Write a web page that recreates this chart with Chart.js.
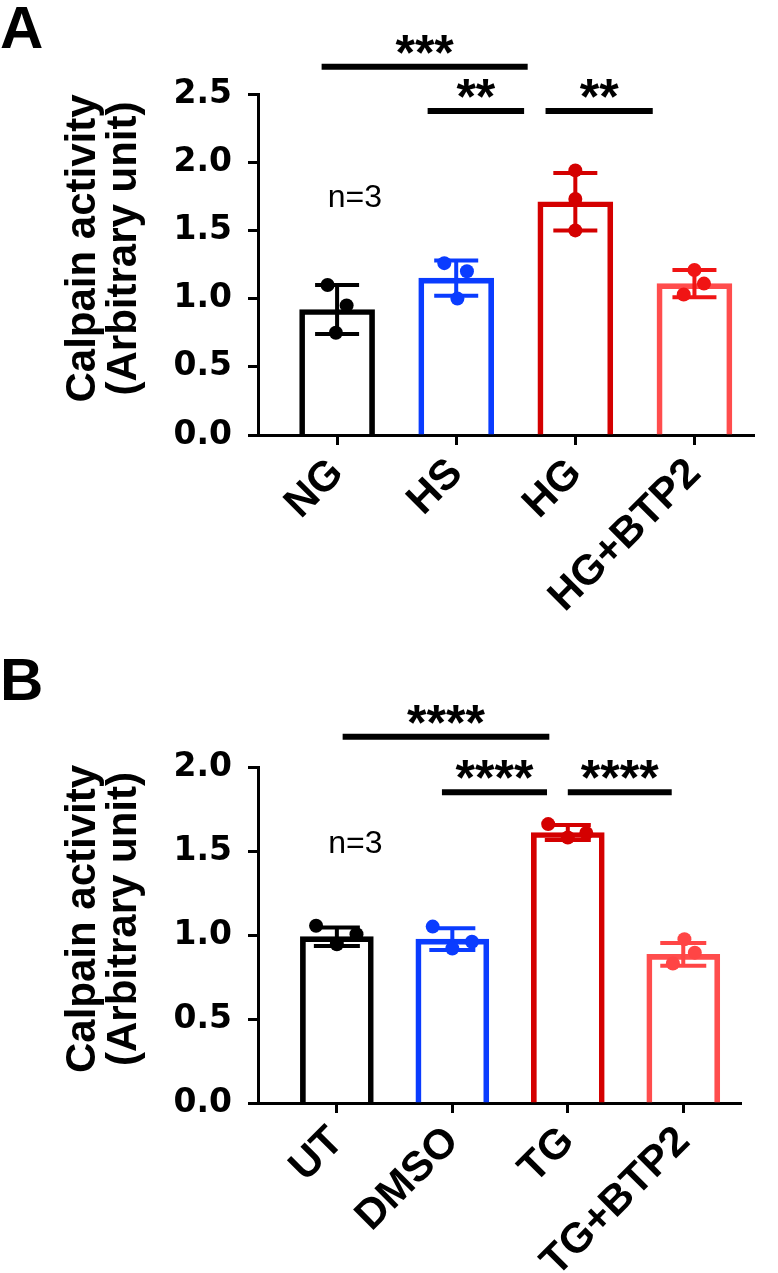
<!DOCTYPE html>
<html>
<head>
<meta charset="utf-8">
<title>Calpain activity</title>
<script src="https://cdn.jsdelivr.net/npm/chart.js@4.4.1/dist/chart.umd.min.js"></script>
<style>
  html, body { margin: 0; padding: 0; background: #fff; }
  canvas { display: block; }
</style>
</head>
<body>
<canvas id="chartA" width="778" height="640"></canvas>
<canvas id="chartB" width="778" height="633"></canvas>

<script>
// ---- Panel A data ----
const labelsA = ['NG', 'HS', 'HG', 'HG+BTP2'];
const meanA = [0.92, 1.15, 1.71, 1.11];
const sdA = [0.18, 0.13, 0.21, 0.10];
const pointsA = [
    [1.10, 0.95, 0.75],
    [1.26, 1.20, 1.00],
    [1.94, 1.73, 1.50],
    [1.21, 1.11, 1.03]
];
const jitterA = [
    [-0.08, 0.08, -0.01],
    [-0.10, 0.09, 0.01],
    [0, 0, 0],
    [0, 0.08, -0.09]
];
const yTicksA = [0, 0.5, 1.0, 1.5, 2.0, 2.5];
const sigA = [
    { from: -0.13, to: 1.60, y: 2.70, text: '***' },
    { from: 0.76, to: 1.57, y: 2.375, text: '**' },
    { from: 1.75, to: 2.65, y: 2.375, text: '**' }
];

// ---- Panel B data ----
const labelsB = ['UT', 'DMSO', 'TG', 'TG+BTP2'];
const meanB = [0.99, 0.975, 1.61, 0.885];
const sdB = [0.055, 0.065, 0.045, 0.068];
const pointsB = [
    [1.055, 1.005, 0.945],
    [1.05, 0.96, 0.92],
    [1.66, 1.607, 1.58],
    [0.975, 0.895, 0.83]
];
const jitterB = [
    [-0.18, 0.17, 0],
    [-0.17, 0.17, 0],
    [-0.17, 0.16, 0],
    [0.01, 0.10, -0.09]
];
const yTicksB = [0, 0.5, 1.0, 1.5, 2.0];
const sigB = [
    { from: 0.05, to: 1.84, y: 2.18, text: '****' },
    { from: 0.91, to: 1.82, y: 1.85, text: '****' },
    { from: 2.00, to: 2.90, y: 1.85, text: '****' }
];

const yTitle = ['Calpain activity', '(Arbitrary unit)'];
const barColors = ['#000000', '#0a3cff', '#d40000', '#ff4d4d'];
const dotColorsA = ['#000000', '#0a3cff', '#d40000', '#f01414'];
const dotColorsB = ['#000000', '#0a3cff', '#d40000', '#ff4545'];

const ARIAL = '"Liberation Sans", Arial, sans-serif';

// Bars + one scatter dataset per group
function buildDatasets(means, points, jitter, dotColors, barWidth) {
    const ds = [{
        type: 'bar',
        data: means.map((m, i) => ({ x: i, y: m })),
        backgroundColor: 'rgba(0,0,0,0)',
        borderColor: barColors,
        borderWidth: 5,
        borderSkipped: 'start',
        barThickness: barWidth,
        order: 2
    }];
    points.forEach((grp, i) => {
        ds.push({
            type: 'scatter',
            data: grp.map((v, k) => ({ x: i + jitter[i][k], y: v })),
            pointRadius: 7,
            pointHoverRadius: 7,
            pointBackgroundColor: dotColors[i],
            pointBorderWidth: 0,
            order: 1
        });
    });
    return ds;
}

// Error bars, significance lines, labels
function makeExtras(cfg) {
    return {
        id: 'extras' + cfg.letter,
        afterDatasetDraw(chart, args) {
            if (args.index !== 0) return;
            const { ctx, scales: { x, y } } = chart;
            ctx.save();
            ctx.lineWidth = 4;
            cfg.means.forEach((m, i) => {
                const px = x.getPixelForValue(i);
                const top = y.getPixelForValue(m + cfg.sds[i]);
                const bot = y.getPixelForValue(m - cfg.sds[i]);
                ctx.strokeStyle = cfg.dotColors[i];
                ctx.beginPath();
                ctx.moveTo(px, top); ctx.lineTo(px, bot);
                ctx.moveTo(px - cfg.cap, top); ctx.lineTo(px + cfg.cap, top);
                ctx.moveTo(px - cfg.cap, bot); ctx.lineTo(px + cfg.cap, bot);
                ctx.stroke();
            });
            ctx.restore();
        },
        afterDraw(chart) {
            const { ctx, chartArea, scales: { x, y } } = chart;
            ctx.save();
            ctx.fillStyle = '#000';
            ctx.strokeStyle = '#000';

            // significance
            ctx.lineWidth = 6;
            ctx.font = 'bold 50px ' + ARIAL;
            ctx.textAlign = 'center';
            ctx.textBaseline = 'alphabetic';
            cfg.sig.forEach(s => {
                const x1 = x.getPixelForValue(s.from);
                const x2 = x.getPixelForValue(s.to);
                const py = y.getPixelForValue(s.y);
                ctx.beginPath();
                ctx.moveTo(x1, py); ctx.lineTo(x2, py);
                ctx.stroke();
                ctx.fillText(s.text, (x1 + x2) / 2, py + 3);
            });

            // n=3
            ctx.font = '32px ' + ARIAL;
            ctx.fillText('n=3', x.getPixelForValue(cfg.nAt[0]), y.getPixelForValue(cfg.nAt[1]));

            // y title
            const cy = (chartArea.top + chartArea.bottom) / 2 - 16;
            ctx.save();
            ctx.translate(0, cy);
            ctx.rotate(-Math.PI / 2);
            ctx.font = 'bold 42px ' + ARIAL;
            ctx.fillText(yTitle[0], 0, 95);
            ctx.fillText(yTitle[1], 0, 136);
            ctx.restore();

            // panel letter
            ctx.font = 'bold 60px ' + ARIAL;
            ctx.textAlign = 'left';
            ctx.fillText(cfg.letter, 0, cfg.letterY);
            ctx.restore();
        }
    };
}

function renderPanel(canvasId, cfg) {
    const ctx = document.getElementById(canvasId).getContext('2d');
    return new Chart(ctx, {
        type: 'bar',
        data: { datasets: buildDatasets(cfg.means, cfg.points, cfg.jitter, cfg.dotColors, cfg.barWidth) },
        options: {
            responsive: false,
            animation: false,
            devicePixelRatio: 1,
            layout: { padding: { top: cfg.padTop, right: cfg.padRight, left: 0, bottom: 0 } },
            plugins: { legend: { display: false }, tooltip: { enabled: false } },
            scales: {
                x: {
                    type: 'linear',
                    min: cfg.xMin,
                    max: 3.5,
                    offset: false,
                    afterBuildTicks: s => { s.ticks = cfg.labels.map((_, i) => ({ value: i })); },
                    ticks: {
                        callback: v => cfg.labels[v],
                        autoSkip: false,
                        maxRotation: 45,
                        minRotation: 45,
                        padding: 4,
                        color: '#000',
                        font: { family: ARIAL, weight: 'bold', size: 42 }
                    },
                    grid: { offset: false, drawOnChartArea: false, tickLength: 10, tickWidth: 3, tickColor: '#000' },
                    border: { color: '#000', width: 3 },
                    afterFit: s => { s.height = cfg.xHeight; }
                },
                y: {
                    min: 0,
                    max: cfg.yTicks[cfg.yTicks.length - 1],
                    afterBuildTicks: s => { s.ticks = cfg.yTicks.map(v => ({ value: v })); },
                    ticks: {
                        callback: v => v.toFixed(1),
                        padding: 16,
                        color: '#000',
                        font: { family: '"DejaVu Sans", sans-serif', weight: 'bold', size: 33 }
                    },
                    grid: { drawOnChartArea: false, tickLength: 10, tickWidth: 3, tickColor: '#000' },
                    border: { color: '#000', width: 3 },
                    afterFit: s => { s.width = 258; }
                }
            }
        },
        plugins: [makeExtras(cfg)]
    });
}

renderPanel('chartA', {
    letter: 'A', letterY: 48,
    labels: labelsA, means: meanA, sds: sdA, points: pointsA, jitter: jitterA,
    dotColors: dotColorsA, yTicks: yTicksA, sig: sigA, nAt: [0.15, 1.67],
    barWidth: 75, cap: 22, padTop: 94, padRight: 24, xMin: -0.664, xHeight: 205
});

renderPanel('chartB', {
    letter: 'B', letterY: 60,
    labels: labelsB, means: meanB, sds: sdB, points: pointsB, jitter: jitterB,
    dotColors: dotColorsB, yTicks: yTicksB, sig: sigB, nAt: [0.16, 1.49],
    barWidth: 73, cap: 23, padTop: 127, padRight: 37, xMin: -0.683, xHeight: 170
});
</script>
</body>
</html>
